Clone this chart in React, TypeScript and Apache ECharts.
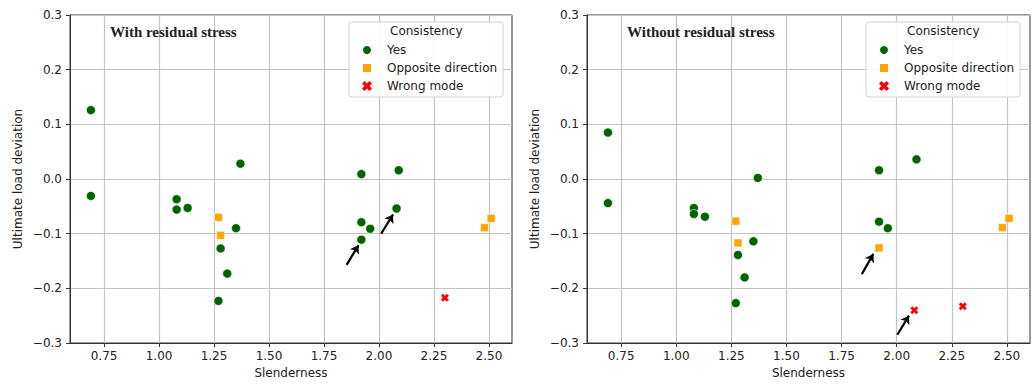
import React, { useEffect, useRef } from "react";
import * as echarts from "echarts";

// ---------- data ----------
const xTicks = [0.75, 1.0, 1.25, 1.5, 1.75, 2.0, 2.25, 2.5];
const seriesNames = ["Yes", "Opposite direction", "Wrong mode"];
const panelTitles = ["With residual stress", "Without residual stress"];

const withYes = [
  [0.69, 0.126], [0.69, -0.031], [1.08, -0.037], [1.08, -0.056], [1.13, -0.053],
  [1.37, 0.028], [1.35, -0.09], [1.28, -0.127], [1.31, -0.173], [1.27, -0.223],
  [1.92, 0.009], [1.92, -0.079], [1.92, -0.111], [1.96, -0.091], [2.08, -0.054], [2.09, 0.016],
];
const withOpposite = [[1.27, -0.07], [1.28, -0.103], [2.48, -0.089], [2.51, -0.072]];
const withWrong = [[2.3, -0.217]];
const withArrows = [
  [[1.853, -0.157], [1.907, -0.121]],
  [[2.01, -0.1], [2.064, -0.065]],
];

const withoutYes = [
  [0.69, 0.085], [0.69, -0.044], [1.08, -0.053], [1.08, -0.064], [1.13, -0.069],
  [1.37, 0.002], [1.35, -0.114], [1.28, -0.139], [1.31, -0.18], [1.27, -0.227],
  [1.92, 0.016], [1.92, -0.078], [1.96, -0.09], [2.09, 0.036],
];
const withoutOpposite = [[1.27, -0.077], [1.28, -0.117], [1.92, -0.126], [2.48, -0.089], [2.51, -0.072]];
const withoutWrong = [[2.08, -0.24], [2.3, -0.233]];
const withoutArrows = [
  [[1.842, -0.174], [1.894, -0.137]],
  [[2.003, -0.285], [2.056, -0.25]],
];

// ---------- styles ----------
const FONT = "DejaVu Sans";
const GREEN = "#006400";
const ORANGE = "#FFA500";
const RED = "#FF0000";
const X_PATH =
  "path://M0,2.5 L2.5,0 L5,2.5 L7.5,0 L10,2.5 L7.5,5 L10,7.5 L7.5,10 L5,7.5 L2.5,10 L0,7.5 L2.5,5 Z";

const fmtMinus = (v: number, d: number) => v.toFixed(d).replace("-", "\u2212");

function makeAxes(idx: number) {
  const x = {
    type: "value",
    gridIndex: idx,
    min: 0.595,
    max: 2.605,
    name: "Slenderness",
    nameLocation: "middle",
    nameGap: 24,
    nameTextStyle: { fontFamily: FONT, fontSize: 12, color: "#222" },
    axisLine: { show: true, onZero: false, lineStyle: { color: "#333", width: 1 } },
    axisTick: { show: true, length: 4, customValues: xTicks, lineStyle: { color: "#333" } },
    axisLabel: {
      customValues: xTicks,
      margin: 7,
      fontFamily: FONT,
      fontSize: 12,
      color: "#222",
      formatter: (v: number) => fmtMinus(v, 2),
    },
    splitLine: { show: true, lineStyle: { color: "#c4c4c4", width: 1.2 } },
  };
  const y = {
    type: "value",
    gridIndex: idx,
    min: -0.3,
    max: 0.3,
    interval: 0.1,
    name: "Ultimate load deviation",
    nameLocation: "middle",
    nameGap: 46,
    nameTextStyle: { fontFamily: FONT, fontSize: 12, color: "#222" },
    axisLine: { show: true, onZero: false, lineStyle: { color: "#333", width: 1 } },
    axisTick: { show: true, length: 4, lineStyle: { color: "#333" } },
    axisLabel: {
      margin: 8,
      fontFamily: FONT,
      fontSize: 12,
      color: "#222",
      formatter: (v: number) => fmtMinus(v, 1),
    },
    splitLine: { show: true, lineStyle: { color: "#c4c4c4", width: 1.2 } },
  };
  return { x, y };
}

function makeSeries(idx: number, yes: number[][], opp: number[][], wrong: number[][], arrows: number[][][]) {
  const base = { type: "scatter", xAxisIndex: idx, yAxisIndex: idx, z: 3 };
  return [
    {
      ...base,
      name: seriesNames[0],
      data: yes,
      symbol: "circle",
      symbolSize: 9,
      itemStyle: { color: GREEN, borderColor: "#fff", borderWidth: 0.6, opacity: 1 },
    },
    {
      ...base,
      name: seriesNames[1],
      data: opp,
      symbol: "rect",
      symbolSize: 8,
      itemStyle: { color: ORANGE, borderColor: "#fff", borderWidth: 0.6, opacity: 1 },
    },
    {
      ...base,
      name: seriesNames[2],
      data: wrong,
      symbol: X_PATH,
      symbolSize: 8,
      itemStyle: { color: RED, borderWidth: 0, opacity: 1 },
    },
    {
      type: "lines",
      coordinateSystem: "cartesian2d",
      xAxisIndex: idx,
      yAxisIndex: idx,
      z: 4,
      symbol: ["none", "arrow"],
      symbolSize: 8,
      lineStyle: { color: "#000", width: 2.2, opacity: 1, curveness: 0 },
      data: arrows.map((c) => ({ coords: c })),
    },
  ];
}

function makeLegend(left: number) {
  return {
    orient: "vertical",
    left,
    top: 22,
    padding: [21, 6, 4, 12],
    itemWidth: 10,
    itemHeight: 10,
    itemGap: 4,
    data: seriesNames,
    selectedMode: false,
    backgroundColor: "rgba(255,255,255,0.9)",
    borderColor: "#d2d2d2",
    borderWidth: 1,
    borderRadius: 3,
    textStyle: {
      fontFamily: FONT,
      fontSize: 12,
      color: "#222",
      lineHeight: 14,
      padding: [0, 0, 0, 10],
    },
  };
}

export default function App() {
  const ref = useRef<HTMLDivElement>(null);

  useEffect(() => {
    if (!ref.current) return;
    const chart = echarts.init(ref.current, undefined, { renderer: "svg" });
    const a0 = makeAxes(0);
    const a1 = makeAxes(1);
    const titleStyle = { fontFamily: "Liberation Serif", fontWeight: "bold", fontSize: 15, color: "#222" };
    const option = {
      animation: false,
      backgroundColor: "#fff",
      grid: [
        { left: 70, right: 523, top: 15, bottom: 38, show: true, borderColor: "#333", borderWidth: 1, containLabel: false },
        { left: 587, right: 5, top: 15, bottom: 38, show: true, borderColor: "#333", borderWidth: 1, containLabel: false },
      ],
      xAxis: [a0.x, a1.x],
      yAxis: [a0.y, a1.y],
      legend: [makeLegend(349), makeLegend(866)],
      title: [
        { text: panelTitles[0], left: 110, top: 24, padding: 0, textStyle: titleStyle },
        { text: panelTitles[1], left: 627, top: 24, padding: 0, textStyle: titleStyle },
      ],
      graphic: [
        {
          type: "text",
          z: 100,
          left: 390,
          top: 25,
          style: { text: "Consistency", fontFamily: FONT, fontSize: 12, fill: "#222" },
        },
        {
          type: "text",
          z: 100,
          left: 907,
          top: 25,
          style: { text: "Consistency", fontFamily: FONT, fontSize: 12, fill: "#222" },
        },
      ],
      series: [
        ...makeSeries(0, withYes, withOpposite, withWrong, withArrows),
        ...makeSeries(1, withoutYes, withoutOpposite, withoutWrong, withoutArrows),
      ],
    };
    chart.setOption(option as any);
    return () => chart.dispose();
  }, []);

  return (
    <div
      ref={ref}
      style={{ position: "fixed", left: 0, top: 0, width: 1035, height: 384 }}
    />
  );
}
